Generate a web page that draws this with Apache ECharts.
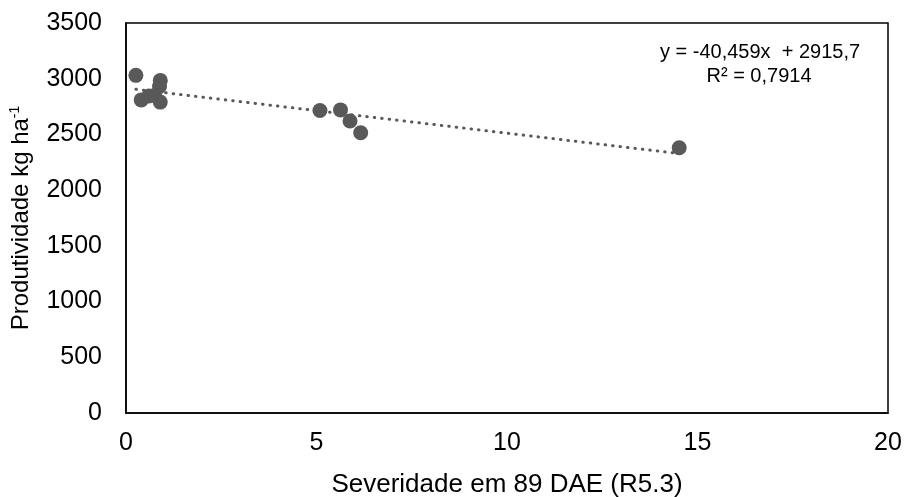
<!DOCTYPE html>
<html>
<head>
<meta charset="utf-8">
<script src="https://cdn.jsdelivr.net/npm/echarts@6/dist/echarts.min.js"></script>
<style>html,body{margin:0;padding:0;background:#fff}#c{width:907px;height:497px}</style>
</head>
<body>
<div id="c"></div>
<script>
var severity = [0.26, 0.9, 0.88, 0.4, 0.6, 0.75, 0.9, 5.09, 5.63, 5.88, 6.16, 14.52];
var yieldKg  = [3030, 2985, 2930, 2810, 2845, 2850, 2790, 2715, 2720, 2620, 2515, 2380];
var trendCoef = [-40.459, 2915.7];
var equationText = ['y = -40,459x  + 2915,7', 'R² = 0,7914'];
var xTicks = [0, 5, 10, 15, 20];
var yTicks = [0, 500, 1000, 1500, 2000, 2500, 3000, 3500];

var pts = severity.map(function (x, i) { return [x, yieldKg[i]]; });
var xmin = Math.min.apply(null, severity), xmax = Math.max.apply(null, severity);
var trend = [[xmin, trendCoef[0] * xmin + trendCoef[1]], [xmax, trendCoef[0] * xmax + trendCoef[1]]];

var font = 'Liberation Sans, Arial, sans-serif';
var plain = function (v) { return String(v); };
var chart = echarts.init(document.getElementById('c'));
chart.setOption({
  animation: false,
  grid: { left: 126, right: 19, top: 23, bottom: 84, containLabel: false, outerBoundsMode: 'none', show: true, borderColor: '#000', borderWidth: 1.5, backgroundColor: 'transparent' },
  xAxis: {
    type: 'value', min: xTicks[0], max: xTicks[xTicks.length - 1], interval: 5,
    axisLine: { show: true, lineStyle: { color: '#000', width: 1.5 } },
    axisTick: { show: false }, splitLine: { show: false },
    axisLabel: { color: '#000', fontSize: 25, fontFamily: font, margin: 18, formatter: plain },
    name: 'Severidade em 89 DAE (R5.3)', nameLocation: 'middle', nameGap: 59,
    nameTextStyle: { color: '#000', fontSize: 26, fontFamily: font }
  },
  yAxis: {
    type: 'value', min: yTicks[0], max: yTicks[yTicks.length - 1], interval: 500,
    axisLine: { show: true, lineStyle: { color: '#000', width: 1.5 } },
    axisTick: { show: false }, splitLine: { show: false },
    axisLabel: { color: '#000', fontSize: 25, fontFamily: font, margin: 24, formatter: plain },
    name: '{n|Produtividade kg ha}{s|-1}', nameLocation: 'middle', nameGap: 92,
    nameTextStyle: {
      color: '#000', fontFamily: font,
      rich: {
        n: { fontSize: 24, fontFamily: font, color: '#000' },
        s: { fontSize: 14, fontFamily: font, color: '#000', padding: [0, 0, 12, 0] }
      }
    }
  },
  graphic: [
    { type: 'text', x: 760, y: 52, style: { text: equationText[0], font: '20px ' + font, fill: '#000', align: 'center', verticalAlign: 'middle' } },
    { type: 'text', x: 759, y: 76, style: { text: equationText[1], font: '20px ' + font, fill: '#000', align: 'center', verticalAlign: 'middle' } }
  ],
  series: [
    {
      type: 'line', data: trend, symbol: 'none', silent: true,
      lineStyle: { color: '#595959', width: 3, type: [0.5, 7], cap: 'round' }
    },
    {
      type: 'scatter', data: pts, symbolSize: 15,
      itemStyle: { color: '#595959', opacity: 1 }
    }
  ]
});
</script>
</body>
</html>
